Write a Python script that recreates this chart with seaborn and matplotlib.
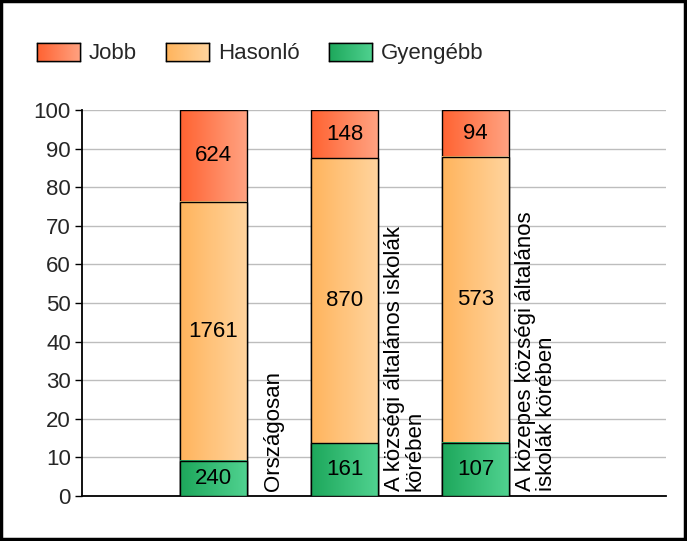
import numpy as np
import matplotlib
matplotlib.use('Agg')
import matplotlib.pyplot as plt
from matplotlib.colors import LinearSegmentedColormap
from matplotlib.patches import Rectangle
import seaborn as sns
import pandas as pd

# data
groups = ['Országosan',
          'A községi általános iskolák\nkörében',
          'A közepes községi általános\niskolák körében']
jobb = [624, 148, 94]
hasonlo = [1761, 870, 573]
gyengebb = [240, 161, 107]

series_names = ['Jobb', 'Hasonló', 'Gyengébb']
# (left, right) of the horizontal gradient in each bar
series_colors = {'Jobb': ('#FF6231', '#FFA382'),
                 'Hasonló': ('#FFB45C', '#FFD49E'),
                 'Gyengébb': ('#1DA75B', '#50D290')}

FONT_SIZE = 16


def main():
    df = pd.DataFrame({'group': groups, 'Jobb': jobb,
                       'Hasonló': hasonlo, 'Gyengébb': gyengebb})
    total = df[series_names].sum(axis=1)
    for name in series_names:
        df[name + '_pct'] = df[name] / total * 100
    # cumulative tops, drawn back to front
    df['top_gy'] = df['Gyengébb_pct']
    df['top_ha'] = df['top_gy'] + df['Hasonló_pct']
    df['top_jo'] = df['top_ha'] + df['Jobb_pct']

    sns.set_style('white')
    plt.rcParams['font.family'] = ['Liberation Sans', 'DejaVu Sans']

    fig = plt.figure(figsize=(6.87, 5.41), dpi=100)
    ax = fig.add_axes([82 / 687, 1 - 496 / 541, 584 / 687, 386 / 541])

    layers = [('Jobb', 'top_jo'), ('Hasonló', 'top_ha'), ('Gyengébb', 'top_gy')]
    bar_width = 0.51
    for name, col in layers:
        sns.barplot(data=df, x='group', y=col, color=series_colors[name][0],
                    saturation=1, width=bar_width, errorbar=None,
                    edgecolor='black', linewidth=1, label=name, ax=ax)

    ax.set_xlim(-1.0, 3.45)
    ax.set_ylim(0, 100)

    # legend (built before the bar fills are swapped for gradients)
    leg = ax.legend(loc='center left', bbox_to_anchor=(37 / 687, 1 - 53.5 / 541),
                    bbox_transform=fig.transFigure, ncol=3, frameon=False,
                    fontsize=FONT_SIZE, handlelength=1.94, handleheight=0.86,
                    handletextpad=0.4, columnspacing=1.3, borderpad=0,
                    borderaxespad=0)
    for handle, name in zip(leg.legend_handles, series_names):
        handle.set_edgecolor('black')
        handle.set_facecolor(series_colors[name][0])

    # gradient fills
    grad = np.linspace(0, 1, 256).reshape(1, -1)
    cmaps = {name: LinearSegmentedColormap.from_list(name, series_colors[name])
             for name in series_names}
    for k, (container, (name, col)) in enumerate(zip(ax.containers, layers)):
        z = 1 + k
        for patch in container.patches:
            x0 = patch.get_x()
            x1 = x0 + patch.get_width()
            y0 = patch.get_y()
            y1 = y0 + patch.get_height()
            ax.imshow(grad, extent=[x0, x1, y0, y1], aspect='auto', cmap=cmaps[name],
                      interpolation='bilinear', zorder=z)
            patch.set_facecolor('none')
            patch.set_zorder(z + 0.5)

    ax.set_xlim(-1.0, 3.45)
    ax.set_ylim(0, 100)

    # value labels in the middle of each segment
    for i in range(len(df)):
        mids = [(df['top_gy'][i] / 2, gyengebb[i]),
                ((df['top_gy'][i] + df['top_ha'][i]) / 2, hasonlo[i]),
                ((df['top_ha'][i] + df['top_jo'][i]) / 2, jobb[i])]
        for y, val in mids:
            ax.text(i, y, str(val), ha='center', va='center',
                    fontsize=FONT_SIZE, color='black', zorder=10)
        # rotated category name right of the bar
        ax.text(i + 0.46, 1.3, groups[i], rotation=90, ha='center',
                va='bottom', multialignment='left', linespacing=0.95,
                fontsize=FONT_SIZE, color='black', zorder=10)

    # axes styling
    ax.set_yticks(range(0, 101, 10))
    ax.yaxis.grid(True, color='#BDBDBD', linewidth=1)
    ax.set_axisbelow(True)
    ax.set_xticks([])
    ax.set_xlabel('')
    ax.set_ylabel('')
    ax.tick_params(axis='y', labelsize=FONT_SIZE, length=5, width=1, color='black',
                   left=True, pad=3)
    for side in ['top', 'right']:
        ax.spines[side].set_visible(False)
    for side in ['left', 'bottom']:
        ax.spines[side].set_color('black')
        ax.spines[side].set_linewidth(1.3)

    # gradient swatches over the legend handles
    fig.canvas.draw()
    renderer = fig.canvas.get_renderer()
    inv = fig.transFigure.inverted()
    for handle, name in zip(leg.legend_handles, series_names):
        bb = handle.get_window_extent(renderer).transformed(inv)
        sw = fig.add_axes([bb.x0, bb.y0, bb.width, bb.height])
        sw.imshow(grad, aspect='auto', cmap=cmaps[name], interpolation='bilinear',
                  extent=[0, 1, 0, 1])
        sw.set_xticks([])
        sw.set_yticks([])
        for spine in sw.spines.values():
            spine.set_visible(True)
            spine.set_color('black')
            spine.set_linewidth(1)

    # outer frame of the picture
    fig.patches.append(Rectangle((0.002, 0.004), 0.995, 0.994, transform=fig.transFigure,
                                 fill=False, edgecolor='black', linewidth=2.5))

    fig.savefig('out.png', dpi=100)
    plt.close(fig)


if __name__ == '__main__':
    main()
